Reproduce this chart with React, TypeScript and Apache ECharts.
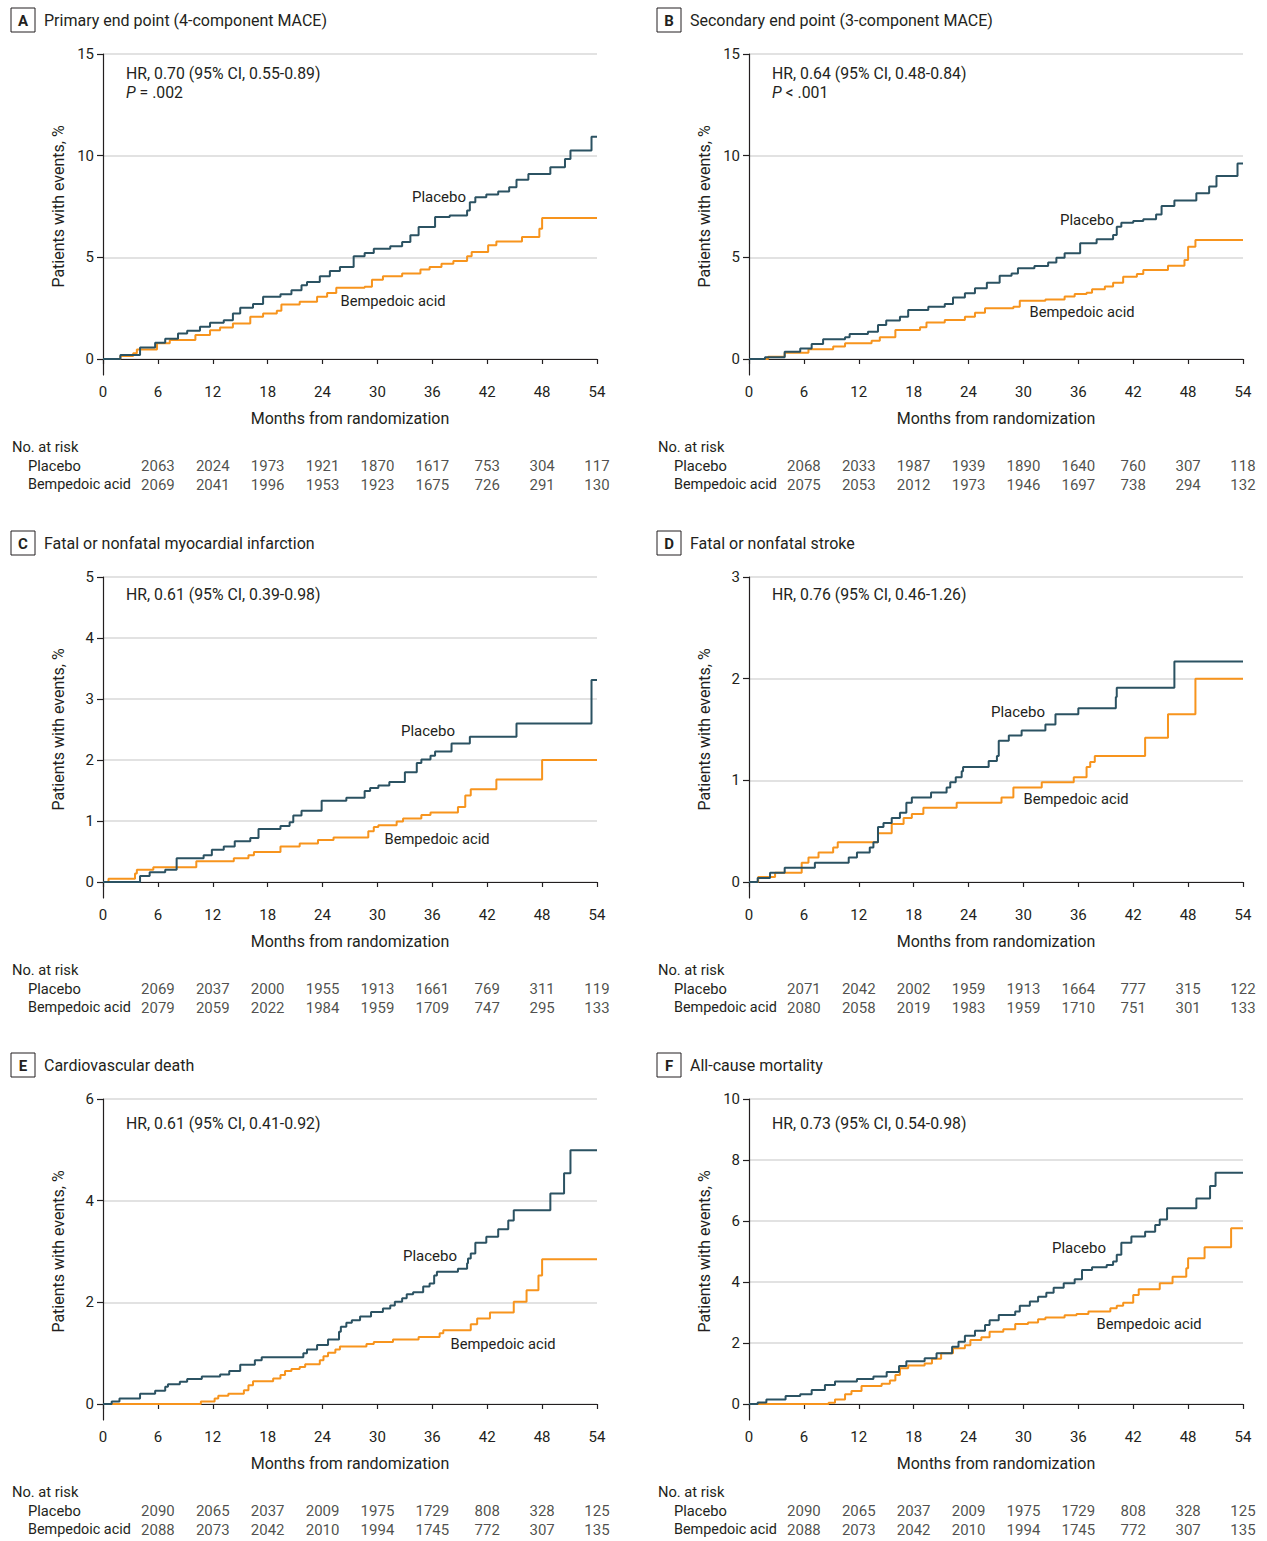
import React, { useEffect, useRef } from 'react';
import * as echarts from 'echarts';

const FONT = 'Roboto';
const TEXT = '#231f20';
const AXIS = '#231f20';
const GRIDLINE = '#d9d9d9';
const PLACEBO_COLOR = '#2b5262';
const BEMP_COLOR = '#f7941d';

const monthTicks = [0, 6, 12, 18, 24, 30, 36, 42, 48, 54];
const riskMonths = [6, 12, 18, 24, 30, 36, 42, 48, 54];
const riskGroups = ['Placebo', 'Bempedoic acid'];

// Panel A
const placeboA = [[0,0],[1.9,0.2],[4.05,0.56],[5.7,0.8],[6.8,1.0],[8.2,1.26],[9.2,1.39],[10.6,1.58],[11.7,1.78],[13.2,1.91],[14.2,2.24],[15,2.52],[16.4,2.7],[17.5,3.06],[19.4,3.19],[20.6,3.38],[21.7,3.63],[22.3,3.79],[23.7,4.07],[24.8,4.33],[25.9,4.53],[27.4,5.05],[28.6,5.21],[29.6,5.42],[31.4,5.54],[32.7,5.75],[33.6,6.08],[34.5,6.49],[36.3,6.98],[37.9,7.06],[39.8,7.3],[40.1,7.71],[40.7,7.96],[41.9,8.09],[43.2,8.24],[44.4,8.45],[45.2,8.82],[46.5,9.1],[48.9,9.43],[50.5,9.84],[51.1,10.25],[53.4,10.93],[54,10.93]];
const bempA = [[0,0],[1.9,0.15],[3.3,0.28],[3.7,0.47],[5.9,0.77],[7.3,0.93],[10.1,1.18],[11.7,1.42],[12.8,1.55],[14.2,1.75],[16.1,2.08],[17.5,2.24],[19,2.37],[19.5,2.68],[21.5,2.81],[23.4,3.06],[24.5,3.25],[25.5,3.5],[28.6,3.55],[29.4,3.9],[30.6,4.07],[32.7,4.2],[34.7,4.4],[35.7,4.53],[37,4.69],[38.3,4.82],[39.8,5.05],[40.3,5.26],[42.1,5.59],[43,5.78],[45.8,6.0],[47.7,6.41],[48,6.93],[54,6.93]];
const riskPlaceboA = [2063, 2024, 1973, 1921, 1870, 1617, 753, 304, 117];
const riskBempA = [2069, 2041, 1996, 1953, 1923, 1675, 726, 291, 130];

// Panel B
const placeboB = [[0,0],[1.75,0.08],[3.9,0.36],[5.6,0.52],[6.85,0.74],[8.1,0.97],[10.5,1.07],[11,1.23],[13,1.34],[14.1,1.67],[15,1.89],[16.5,2.08],[17.4,2.41],[19.6,2.57],[21.4,2.7],[22.3,3.03],[23.6,3.23],[24.7,3.48],[26,3.75],[27.4,4.1],[28.7,4.21],[29.4,4.46],[31.2,4.57],[32.7,4.75],[33.6,4.98],[34.5,5.2],[36.2,5.69],[38,5.89],[39.8,6.1],[40.2,6.51],[40.7,6.7],[42,6.79],[43.1,6.87],[44.5,7.11],[45.1,7.52],[46.5,7.79],[48.9,8.15],[50.3,8.48],[51.1,9.0],[53.4,9.62],[54,9.62]];
const bempB = [[0,0],[2.1,0.11],[3.9,0.31],[6.5,0.48],[9.2,0.61],[10.5,0.77],[13.4,0.9],[14.3,1.07],[16,1.43],[18.7,1.56],[19.4,1.79],[21.4,1.92],[23.6,2.08],[24.7,2.28],[25.8,2.49],[28.9,2.57],[29.6,2.87],[32.4,2.93],[34.5,3.07],[35.6,3.2],[36.9,3.26],[37.5,3.43],[38.9,3.56],[39.8,3.75],[40.9,4.05],[42.4,4.18],[43.1,4.38],[45.8,4.59],[47.6,4.87],[48,5.52],[48.8,5.85],[54,5.85]];
const riskPlaceboB = [2068, 2033, 1987, 1939, 1890, 1640, 760, 307, 118];
const riskBempB = [2075, 2053, 2012, 1973, 1946, 1697, 738, 294, 132];

// Panel C
const placeboC = [[0,0],[4.05,0.1],[5.1,0.16],[6.8,0.2],[8.05,0.39],[11,0.44],[11.9,0.53],[13.2,0.58],[14.4,0.67],[16.1,0.72],[17,0.87],[19.4,0.92],[20.4,0.98],[20.8,1.09],[21.7,1.17],[23.9,1.33],[26.6,1.38],[28.6,1.49],[29.2,1.54],[30.1,1.58],[31.3,1.64],[33,1.8],[34.3,1.95],[34.8,2.01],[35.8,2.07],[36.3,2.14],[38.1,2.27],[40.1,2.38],[45.2,2.6],[53.4,3.31],[54,3.31]];
const bempC = [[0,0],[0.6,0.055],[3.5,0.14],[3.7,0.2],[5.5,0.24],[10.2,0.34],[14.3,0.39],[15.9,0.44],[16.5,0.49],[19.4,0.58],[21.5,0.63],[23.5,0.69],[25.2,0.73],[29,0.83],[29.6,0.9],[30.1,0.93],[32.1,0.99],[32.8,1.04],[34.8,1.1],[35.8,1.14],[38.8,1.23],[39.6,1.42],[40.2,1.52],[43,1.68],[48,2.0],[54,2.0]];
const riskPlaceboC = [2069, 2037, 2000, 1955, 1913, 1661, 769, 311, 119];
const riskBempC = [2079, 2059, 2022, 1984, 1959, 1709, 747, 295, 133];

// Panel D
const placeboD = [[0,0],[0.95,0.04],[2.3,0.09],[3.9,0.14],[7.2,0.19],[10.9,0.24],[11.8,0.29],[13.2,0.34],[13.6,0.39],[14.1,0.54],[14.7,0.58],[15.6,0.63],[16.5,0.68],[17.2,0.78],[17.8,0.83],[19.9,0.88],[21.6,0.93],[22,0.98],[22.6,1.03],[23.25,1.09],[23.4,1.13],[26.2,1.19],[27.1,1.24],[27.3,1.39],[28.4,1.44],[29.8,1.49],[32.4,1.55],[33.5,1.65],[36,1.71],[40.1,1.82],[40.2,1.91],[46.5,2.17],[54,2.17]];
const bempD = [[0,0],[1.0,0.05],[2.85,0.09],[5.76,0.19],[6.5,0.24],[7.6,0.29],[9.2,0.34],[9.7,0.39],[14.1,0.48],[15.6,0.57],[16.9,0.63],[17.8,0.67],[19.06,0.73],[22.7,0.78],[27.6,0.83],[28.9,0.93],[32,0.98],[35.5,1.03],[36.9,1.13],[37.3,1.18],[37.8,1.24],[43.3,1.42],[45.8,1.65],[48.8,2.0],[54,2.0]];
const riskPlaceboD = [2071, 2042, 2002, 1959, 1913, 1664, 777, 315, 122];
const riskBempD = [2080, 2058, 2019, 1983, 1959, 1710, 751, 301, 133];

// Panel E
const placeboE = [[0,0],[0.95,0.05],[1.8,0.11],[4.05,0.2],[5.7,0.26],[6.8,0.34],[7.1,0.39],[8.4,0.44],[9.2,0.49],[10.8,0.54],[12.8,0.58],[13.8,0.65],[15,0.77],[16.6,0.86],[17.35,0.92],[21.9,1.0],[22.3,1.07],[23.4,1.16],[24.6,1.27],[25.8,1.42],[26,1.52],[26.6,1.6],[27.2,1.65],[28.1,1.72],[29.3,1.81],[30.6,1.88],[31.4,1.94],[31.9,2.01],[32.7,2.08],[33.2,2.16],[33.9,2.2],[35,2.31],[35.7,2.37],[36.2,2.53],[36.5,2.6],[38.8,2.66],[39.8,2.77],[39.9,2.86],[40.2,2.96],[40.7,3.17],[41.9,3.29],[43.2,3.44],[44.3,3.61],[44.9,3.81],[48.9,4.14],[50.4,4.54],[51.1,4.99],[54,4.99]];
const bempE = [[0,0],[10.7,0.05],[12.2,0.11],[12.6,0.16],[13.7,0.2],[15.4,0.27],[15.9,0.37],[16.4,0.45],[18.6,0.5],[19.4,0.57],[19.9,0.65],[20.6,0.69],[21.5,0.73],[22.1,0.78],[23.7,0.86],[24.1,0.94],[24.6,1.01],[25.4,1.07],[25.9,1.13],[28.8,1.18],[29.6,1.22],[31.7,1.27],[34.5,1.32],[36.8,1.39],[37.2,1.45],[40.2,1.57],[40.9,1.68],[42.3,1.8],[44.9,2.01],[46.3,2.24],[47.6,2.53],[48,2.85],[54,2.85]];
const riskPlaceboE = [2090, 2065, 2037, 2009, 1975, 1729, 808, 328, 125];
const riskBempE = [2088, 2073, 2042, 2010, 1994, 1745, 772, 307, 135];

// Panel F
const placeboF = [[0,0],[0.95,0.05],[1.9,0.15],[4.0,0.26],[5.6,0.32],[6.85,0.46],[8.3,0.62],[9.4,0.74],[11.8,0.82],[13.6,0.9],[15.05,1.05],[16.4,1.25],[17.2,1.4],[19.2,1.5],[20.5,1.66],[22.2,1.88],[22.9,2.04],[23.6,2.24],[24.7,2.4],[25.8,2.59],[26.3,2.75],[27.3,2.92],[29.1,3.03],[29.6,3.22],[30.7,3.36],[31.6,3.52],[32.5,3.65],[33.3,3.81],[34.4,3.96],[35.6,4.09],[36.4,4.39],[37.5,4.48],[39.1,4.56],[39.8,4.67],[40.2,4.89],[40.7,5.29],[41.8,5.49],[43.3,5.65],[44.4,5.87],[44.9,6.05],[45.7,6.42],[48.9,6.74],[50.4,7.15],[51,7.58],[54,7.58]];
const bempF = [[0,0],[8.7,0.04],[9.4,0.15],[10.5,0.32],[11.2,0.43],[12.3,0.59],[14.5,0.66],[15.4,0.77],[16,0.95],[16.5,1.17],[17.4,1.26],[19.2,1.33],[20,1.48],[21,1.66],[22.3,1.83],[23.6,1.93],[24.2,2.1],[25.4,2.19],[26.3,2.37],[27.8,2.45],[29.1,2.62],[30.5,2.67],[31.6,2.78],[32.4,2.84],[34.5,2.91],[35.8,2.95],[37.1,3.03],[39.5,3.14],[40.2,3.22],[40.9,3.32],[42,3.57],[42.6,3.76],[44.9,3.96],[46.3,4.17],[47.8,4.45],[48,4.78],[49.8,5.14],[52.7,5.76],[54,5.76]];
const riskPlaceboF = [2090, 2065, 2037, 2009, 1975, 1729, 808, 328, 125];
const riskBempF = [2088, 2073, 2042, 2010, 1994, 1745, 772, 307, 135];

const yTicksA = [0, 5, 10, 15];
const yTicksC = [0, 1, 2, 3, 4, 5];
const yTicksD = [0, 1, 2, 3];
const yTicksE = [0, 2, 4, 6];
const yTicksF = [0, 2, 4, 6, 8, 10];

const panels = [
  { letter: 'A', title: 'Primary end point (4-component MACE)', hr: 'HR, 0.70 (95% CI, 0.55-0.89)', p: '{i|P} = .002', yTicks: yTicksA, placebo: placeboA, bemp: bempA, rp: riskPlaceboA, rb: riskBempA, lp: [336, 143], lb: [290, 247], hrY: 19 },
  { letter: 'B', title: 'Secondary end point (3-component MACE)', hr: 'HR, 0.64 (95% CI, 0.48-0.84)', p: '{i|P} < .001', yTicks: yTicksA, placebo: placeboB, bemp: bempB, rp: riskPlaceboB, rb: riskBempB, lp: [338, 166], lb: [333, 258], hrY: 19 },
  { letter: 'C', title: 'Fatal or nonfatal myocardial infarction', hr: 'HR, 0.61 (95% CI, 0.39-0.98)', p: '', yTicks: yTicksC, placebo: placeboC, bemp: bempC, rp: riskPlaceboC, rb: riskBempC, lp: [325, 154], lb: [334, 262], hrY: 17 },
  { letter: 'D', title: 'Fatal or nonfatal stroke', hr: 'HR, 0.76 (95% CI, 0.46-1.26)', p: '', yTicks: yTicksD, placebo: placeboD, bemp: bempD, rp: riskPlaceboD, rb: riskBempD, lp: [269, 135], lb: [327, 222], hrY: 17 },
  { letter: 'E', title: 'Cardiovascular death', hr: 'HR, 0.61 (95% CI, 0.41-0.92)', p: '', yTicks: yTicksE, placebo: placeboE, bemp: bempE, rp: riskPlaceboE, rb: riskBempE, lp: [327, 157], lb: [400, 245], hrY: 24 },
  { letter: 'F', title: 'All-cause mortality', hr: 'HR, 0.73 (95% CI, 0.54-0.98)', p: '', yTicks: yTicksF, placebo: placeboF, bemp: bempF, rp: riskPlaceboF, rb: riskBempF, lp: [330, 149], lb: [400, 225], hrY: 24 },
];

const colX = [103, 749];
const rowTop = [54, 577, 1099];
const PLOT_W = 494;
const ZERO_OFF = 305;
const AXIS_OFF = 321;

function txt(text: string, x: number, y: number, size: number, align = 'left', extra: any = {}) {
  return {
    type: 'text',
    x,
    y,
    silent: true,
    ...extra.el,
    style: {
      text,
      fontSize: size,
      fontFamily: FONT,
      fill: TEXT,
      align,
      textAlign: align,
      verticalAlign: 'middle',
      textVerticalAlign: 'middle',
      ...extra.style,
    },
  };
}

function buildOption() {
  const grid: any[] = [];
  const xAxis: any[] = [];
  const yAxis: any[] = [];
  const series: any[] = [];
  const elements: any[] = [];

  panels.forEach((pn, i) => {
    const col = i % 2;
    const row = Math.floor(i / 2);
    const gx = colX[col];
    const gt = rowTop[row];
    const yMax = pn.yTicks[pn.yTicks.length - 1];
    const ppu = ZERO_OFF / yMax;
    const yMin = -(AXIS_OFF - ZERO_OFF) / ppu;
    const gi = i * 2;

    grid.push({ left: gx, top: gt, width: PLOT_W, height: AXIS_OFF });
    grid.push({ left: gx, top: gt + 402, width: PLOT_W, height: 38 });

    xAxis.push({
      gridIndex: gi, type: 'value', min: 0, max: 54, interval: 6,
      axisLine: { show: true, lineStyle: { color: AXIS, width: 1.2 } },
      axisTick: { show: true, length: 5, lineStyle: { color: AXIS, width: 1.2 } },
      axisLabel: { fontSize: 15, color: TEXT, fontFamily: FONT, margin: 9, customValues: monthTicks },
      splitLine: { show: false },
    });
    xAxis.push({ gridIndex: gi + 1, type: 'value', min: 0, max: 54, show: false });

    yAxis.push({
      gridIndex: gi, type: 'value', min: yMin, max: yMax,
      axisLine: { show: true, lineStyle: { color: AXIS, width: 1.2 } },
      axisTick: { show: true, length: 6, customValues: pn.yTicks, lineStyle: { color: AXIS, width: 1.2 } },
      axisLabel: { fontSize: 15, color: TEXT, fontFamily: FONT, margin: 9, customValues: pn.yTicks },
      splitLine: { show: true, lineStyle: { color: GRIDLINE, width: 1.5 } },
    });
    yAxis.push({ gridIndex: gi + 1, type: 'category', data: riskGroups, inverse: true, show: false });

    series.push({
      type: 'line', name: 'Placebo', xAxisIndex: gi, yAxisIndex: gi, step: 'end',
      data: pn.placebo, showSymbol: false, symbol: 'none', silent: true,
      lineStyle: { color: PLACEBO_COLOR, width: 2 }, z: 3,
    });
    series.push({
      type: 'line', name: 'Bempedoic acid', xAxisIndex: gi, yAxisIndex: gi, step: 'end',
      data: pn.bemp, showSymbol: false, symbol: 'none', silent: true,
      lineStyle: { color: BEMP_COLOR, width: 2 }, z: 2,
    });
    const riskData: any[] = [];
    riskMonths.forEach((m, k) => {
      riskData.push([m, riskGroups[0], pn.rp[k]]);
      riskData.push([m, riskGroups[1], pn.rb[k]]);
    });
    series.push({
      type: 'scatter', xAxisIndex: gi + 1, yAxisIndex: gi + 1, data: riskData,
      symbolSize: 1, itemStyle: { color: 'rgba(0,0,0,0)' }, silent: true,
      label: {
        show: true, position: 'inside', fontSize: 15, fontFamily: FONT, color: TEXT,
        formatter: (p: any) => String(p.value[2]),
      },
    });

    const titleY = gt - 34;
    elements.push({
      type: 'rect', silent: true,
      shape: { x: gx - 92, y: titleY - 12, width: 24, height: 24 },
      style: { fill: '#fff', stroke: AXIS, lineWidth: 1 },
    });
    elements.push(txt(pn.letter, gx - 80, titleY + 0.5, 15, 'center', { style: { fontWeight: 'bold' } }));
    elements.push(txt(pn.title, gx - 59, titleY, 16));
    elements.push(txt(pn.hr, gx + 23, gt + pn.hrY, 15.8));
    if (pn.p) {
      elements.push(txt(pn.p, gx + 23, gt + pn.hrY + 19, 15.8, 'left', { style: { rich: { i: { fontStyle: 'italic', fontSize: 15.8, fontFamily: FONT, fill: TEXT } } } }));
    }
    elements.push(txt('Patients with events, %', gx - 45, gt + 152.5, 16, 'center', { el: { rotation: Math.PI / 2 } }));
    elements.push(txt('Months from randomization', gx + PLOT_W / 2, gt + 364, 16, 'center'));
    elements.push(txt('Placebo', gx + pn.lp[0], gt + pn.lp[1], 15, 'center'));
    elements.push(txt('Bempedoic acid', gx + pn.lb[0], gt + pn.lb[1], 14.7, 'center'));
    elements.push(txt('No. at risk', gx - 91, gt + 393, 14.7));
    elements.push(txt('Placebo', gx - 75, gt + 411.5, 14.7));
    elements.push(txt('Bempedoic acid', gx - 75, gt + 430.5, 14.4));
  });

  return {
    animation: false,
    backgroundColor: '#ffffff',
    textStyle: { fontFamily: FONT },
    grid, xAxis, yAxis, series,
    graphic: { elements },
  };
}

export default function App() {
  const ref = useRef<HTMLDivElement>(null);
  useEffect(() => {
    if (!ref.current) return;
    const chart = echarts.init(ref.current, undefined, { renderer: 'svg' });
    chart.setOption(buildOption() as any);
    return () => chart.dispose();
  }, []);
  return (
    <div
      ref={ref}
      style={{ position: 'absolute', left: 0, top: 0, width: 1267, height: 1541, background: '#fff' }}
    />
  );
}
